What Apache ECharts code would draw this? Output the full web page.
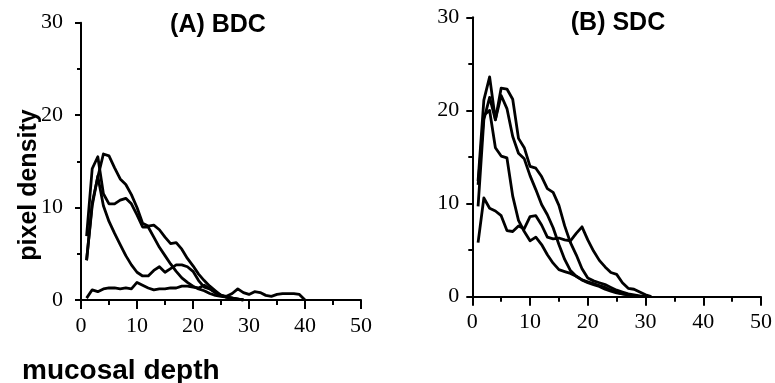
<!DOCTYPE html>
<html><head><meta charset="utf-8">
<script src="https://cdn.jsdelivr.net/npm/echarts@6/dist/echarts.min.js"></script>
<style>html,body{margin:0;padding:0;background:#fff}#c{width:775px;height:383px}</style>
</head><body><div id="c"></div>
<script>
// ---- data ----
const titleA = '(A) BDC';
const titleB = '(B) SDC';
const yName = 'pixel density';
const xName = 'mucosal depth';
const xTicks = [0, 10, 20, 30, 40, 50];
const yTicks = [0, 10, 20, 30];

const bdcDepth = [1,2,3,4,5,6,7,8,9,10,11,12,13,14,15,16,17,18,19,20,21,22,23,24,25,26,27,28,29,30,31,32,33,34,35,36,37,38,39,40];
const bdc1 = [4.3,10.5,13.3,15.8,15.6,14.3,13.1,12.5,11.4,10.0,8.3,8.0,8.1,7.6,6.8,6.1,6.2,5.5,4.5,3.7,2.8,2.1,1.5,1.0,0.5,0.3,0.2,0.1,0];
const bdc2 = [6.9,14.2,15.5,11.5,10.4,10.4,10.8,11.0,10.4,9.2,7.9,7.9,6.8,5.7,4.8,3.9,3.1,2.4,1.9,1.5,1.2,1.0,0.7,0.5,0.4,0.3,0.2,0.1,0];
const bdc3 = [4.3,10.2,13.4,10.2,8.5,7.2,6.0,4.8,3.8,3.0,2.6,2.6,3.2,3.6,3.0,3.4,3.8,3.8,3.6,3.1,2.1,1.4,1.2,0.8,0.5,0.3,0.2,0.1,0];
const bdc4 = [0.2,1.1,0.9,1.2,1.3,1.3,1.2,1.3,1.2,1.9,1.6,1.3,1.1,1.2,1.2,1.3,1.3,1.5,1.5,1.4,1.3,1.6,1.2,0.8,0.5,0.4,0.7,1.2,0.8,0.6,0.9,0.8,0.5,0.4,0.6,0.7,0.7,0.7,0.6,0];

const sdcDepth = [1,2,3,4,5,6,7,8,9,10,11,12,13,14,15,16,17,18,19,20,21,22,23,24,25,26,27,28,29,30,31];
const sdc1 = [12.4,21.1,23.6,19.0,22.4,22.3,21.2,17.0,16.0,14.0,13.8,12.9,11.6,11.2,9.8,7.6,5.8,4.5,3.0,2.0,1.7,1.5,1.3,1.0,0.7,0.5,0.3,0.2,0.1,0];
const sdc2 = [9.7,19.0,21.4,19.0,21.6,20.2,17.2,15.4,14.8,13.0,11.5,9.9,8.8,7.4,5.6,4.0,2.8,2.2,1.8,1.5,1.3,1.1,0.8,0.6,0.4,0.3,0.2,0.1,0];
const sdc3 = [12.0,19.5,20.0,16.0,15.1,14.9,10.8,8.2,7.0,6.0,6.4,5.6,4.5,3.6,2.9,2.7,2.5,2.2,1.8,1.6,1.4,1.2,1.0,0.7,0.5,0.3,0.2,0.1,0];
const sdc4 = [5.8,10.6,9.5,9.2,8.7,7.1,7.0,7.6,7.3,8.6,8.7,7.7,6.4,6.2,6.3,6.1,6.0,6.8,7.5,6.1,4.9,3.9,3.2,2.6,2.4,1.5,0.9,0.8,0.5,0.2,0];

// ---- chart ----
const pairs = (xs, ys) => ys.map((v, i) => [xs[i], v]);
const lineSeries = (xs, ys, idx) => ({
  type: 'line', xAxisIndex: idx, yAxisIndex: idx, data: pairs(xs, ys),
  showSymbol: false, symbol: 'none', silent: true,
  lineStyle: { color: '#000', width: 2.8, join: 'round' }
});
const serifLabel = { color: '#000', fontFamily: 'Liberation Serif', fontSize: 22 };
const mkX = (idx) => ({
  type: 'value', gridIndex: idx, min: xTicks[0], max: xTicks[xTicks.length - 1], interval: xTicks[1] - xTicks[0],
  axisLine: { lineStyle: { color: '#000', width: 2 } },
  axisTick: { length: 9, lineStyle: { color: '#000', width: 2 } },
  minorTick: { show: true, splitNumber: 2, length: 5, lineStyle: { color: '#000', width: 2 } },
  axisLabel: Object.assign({ margin: 15 }, serifLabel),
  splitLine: { show: false }
});
const mkY = (idx) => ({
  type: 'value', gridIndex: idx, min: yTicks[0], max: yTicks[yTicks.length - 1], interval: yTicks[1] - yTicks[0],
  axisLine: { lineStyle: { color: '#000', width: 2 } },
  axisTick: { length: 6, lineStyle: { color: '#000', width: 2 } },
  minorTick: { show: true, splitNumber: 2, length: 4, lineStyle: { color: '#000', width: 2 } },
  axisLabel: Object.assign({ margin: idx === 0 ? 18 : 13 }, serifLabel),
  splitLine: { show: false }
});

const chart = echarts.init(document.getElementById('c'));
chart.setOption({
  animation: false,
  backgroundColor: '#fff',
  grid: [
    { left: 81, top: 22.7, width: 280, height: 277.3 },
    { left: 472.3, top: 17.3, width: 292, height: 279.4 }
  ],
  xAxis: [mkX(0), mkX(1)],
  yAxis: [mkY(0), mkY(1)],
  series: [
    lineSeries(bdcDepth, bdc1, 0), lineSeries(bdcDepth, bdc2, 0),
    lineSeries(bdcDepth, bdc3, 0), lineSeries(bdcDepth, bdc4, 0),
    lineSeries(sdcDepth, sdc1, 1), lineSeries(sdcDepth, sdc2, 1),
    lineSeries(sdcDepth, sdc3, 1), lineSeries(sdcDepth, sdc4, 1)
  ],
  graphic: [
    { type: 'text', x: 218, y: 25, style: { text: titleA, font: 'bold 25px "Liberation Sans"', fill: '#000', textAlign: 'center', textVerticalAlign: 'middle' } },
    { type: 'text', x: 618, y: 23, style: { text: titleB, font: 'bold 25px "Liberation Sans"', fill: '#000', textAlign: 'center', textVerticalAlign: 'middle' } },
    { type: 'text', x: 29, y: 185, rotation: Math.PI / 2, style: { text: yName, font: 'bold 25px "Liberation Sans"', fill: '#000', textAlign: 'center', textVerticalAlign: 'middle' } },
    { type: 'text', x: 22, y: 371, style: { text: xName, font: 'bold 28px "Liberation Sans"', fill: '#000', textAlign: 'left', textVerticalAlign: 'middle' } }
  ]
});
</script>
</body></html>
